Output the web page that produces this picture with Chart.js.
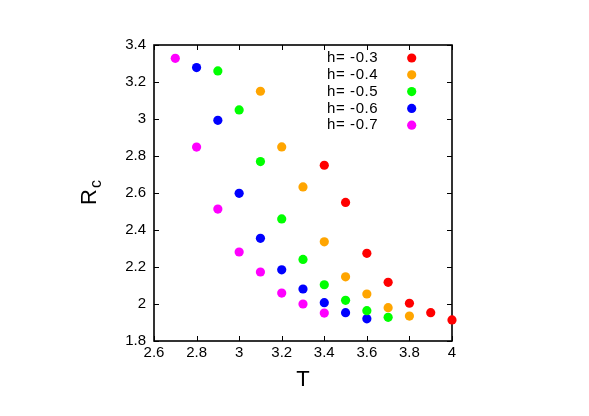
<!DOCTYPE html>
<html>
<head>
<meta charset="utf-8">
<script src="https://cdn.jsdelivr.net/npm/chart.js@4"></script>
<style>
  body { margin: 0; background: #fff; }
  #wrap { width: 589px; height: 416px; }
</style>
</head>
<body>
<div id="wrap"><canvas id="rcChart"></canvas></div>
<script>
// values
const seriesLabels = ['h= -0.3', 'h= -0.4', 'h= -0.5', 'h= -0.6', 'h= -0.7'];
const seriesColors = ['#ff0000', '#ffa500', '#00ff00', '#0000ff', '#ff00ff'];

const t03 = [3.4, 3.5, 3.6, 3.7, 3.8, 3.9, 4.0];
const rc03 = [2.750, 2.549, 2.274, 2.117, 2.004, 1.953, 1.914];

const t04 = [3.1, 3.2, 3.3, 3.4, 3.5, 3.6, 3.7, 3.8];
const rc04 = [3.150, 2.849, 2.633, 2.336, 2.147, 2.054, 1.980, 1.935];

const t05 = [2.9, 3.0, 3.1, 3.2, 3.3, 3.4, 3.5, 3.6, 3.7];
const rc05 = [3.260, 3.049, 2.770, 2.460, 2.241, 2.104, 2.020, 1.964, 1.928];

const t06 = [2.8, 2.9, 3.0, 3.1, 3.2, 3.3, 3.4, 3.5, 3.6];
const rc06 = [3.278, 2.993, 2.598, 2.355, 2.185, 2.081, 2.007, 1.953, 1.920];

const t07 = [2.7, 2.8, 2.9, 3.0, 3.1, 3.2, 3.3, 3.4];
const rc07 = [3.328, 2.848, 2.513, 2.281, 2.173, 2.059, 2.000, 1.951];

const xTicks = [2.6, 2.8, 3.0, 3.2, 3.4, 3.6, 3.8, 4.0];
const yTicks = [1.8, 2.0, 2.2, 2.4, 2.6, 2.8, 3.0, 3.2, 3.4];

const allT = [t03, t04, t05, t06, t07];
const allRc = [rc03, rc04, rc05, rc06, rc07];

const FONT = '"Liberation Sans", Arial, sans-serif';

function toPoints(xs, ys) {
    return xs.map((x, i) => ({ x: x, y: ys[i] }));
}

const datasets = seriesLabels.map((label, i) => ({
    label: label,
    data: toPoints(allT[i], allRc[i]),
    backgroundColor: seriesColors[i],
    borderColor: seriesColors[i],
    borderWidth: 0,
    pointRadius: 4.6,
    pointHoverRadius: 4.6,
    showLine: false,
    clip: false
}));

// gnuplot style box with inward ticks on all sides
const framePlugin = {
    id: 'frame',
    beforeDatasetsDraw(chart) {
        const { ctx, chartArea: a, scales } = chart;
        const len = 5;
        ctx.save();
        ctx.strokeStyle = '#000';
        ctx.lineWidth = 1;
        ctx.beginPath();
        scales.x.ticks.forEach(t => {
            const px = Math.round(scales.x.getPixelForValue(t.value)) + 0.5;
            ctx.moveTo(px, a.bottom); ctx.lineTo(px, a.bottom - len);
            ctx.moveTo(px, a.top); ctx.lineTo(px, a.top + len);
        });
        scales.y.ticks.forEach(t => {
            const py = Math.round(scales.y.getPixelForValue(t.value)) + 0.5;
            ctx.moveTo(a.left, py); ctx.lineTo(a.left + len, py);
            ctx.moveTo(a.right, py); ctx.lineTo(a.right - len, py);
        });
        ctx.stroke();
        ctx.lineWidth = 1.6;
        ctx.strokeRect(a.left, a.top, a.right - a.left, a.bottom - a.top);
        ctx.restore();
    }
};

// y title with subscript, and the key in the top right corner
const textPlugin = {
    id: 'texts',
    afterDraw(chart) {
        const ctx = chart.ctx;
        ctx.save();
        ctx.fillStyle = '#000';
        ctx.translate(96, 205);
        ctx.rotate(-Math.PI / 2);
        ctx.textAlign = 'left';
        ctx.textBaseline = 'alphabetic';
        ctx.font = '22px ' + FONT;
        ctx.fillText('R', 0, 0);
        const w = ctx.measureText('R').width;
        ctx.font = '16px ' + FONT;
        ctx.fillText('c', w + 1, 5);
        ctx.restore();

        ctx.save();
        ctx.font = '15px ' + FONT;
        ctx.letterSpacing = '0.6px';
        ctx.textBaseline = 'middle';
        ctx.textAlign = 'left';
        chart.data.datasets.forEach((ds, i) => {
            const y = 58 + i * 16.8;
            ctx.fillStyle = '#000';
            ctx.fillText(ds.label, 327, y);
            ctx.fillStyle = ds.backgroundColor;
            ctx.beginPath();
            ctx.arc(411.7, y, 4.6, 0, Math.PI * 2);
            ctx.fill();
        });
        ctx.restore();
    }
};

function fmt(v) {
    return String(+v.toFixed(1));
}

const config = {
    type: 'scatter',
    data: { datasets: datasets },
    options: {
        responsive: true,
        maintainAspectRatio: false,
        animation: false,
        events: [],
        layout: { padding: { top: 45, right: 137, bottom: 0, left: 0 } },
        plugins: {
            legend: { display: false },
            tooltip: { enabled: false }
        },
        scales: {
            x: {
                type: 'linear',
                min: 2.6,
                max: 4.0,
                afterBuildTicks(scale) { scale.ticks = xTicks.map(v => ({ value: v })); },
                afterFit(scale) { scale.height = 75; },
                grid: { display: false, drawTicks: false },
                border: { display: false },
                ticks: {
                    padding: 3,
                    color: '#000',
                    font: { family: FONT, size: 15 },
                    maxRotation: 0,
                    callback: v => fmt(v)
                },
                title: {
                    display: true,
                    text: 'T',
                    color: '#000',
                    font: { family: FONT, size: 22 },
                    padding: { top: 0, bottom: 23 }
                }
            },
            y: {
                type: 'linear',
                min: 1.8,
                max: 3.4,
                afterBuildTicks(scale) { scale.ticks = yTicks.map(v => ({ value: v })); },
                afterFit(scale) { scale.width = 154; },
                grid: { display: false, drawTicks: false },
                border: { display: false },
                ticks: {
                    padding: 8,
                    color: '#000',
                    font: { family: FONT, size: 15 },
                    callback: v => fmt(v)
                }
            }
        }
    },
    plugins: [framePlugin, textPlugin]
};

new Chart(document.getElementById('rcChart').getContext('2d'), config);
</script>
</body>
</html>
